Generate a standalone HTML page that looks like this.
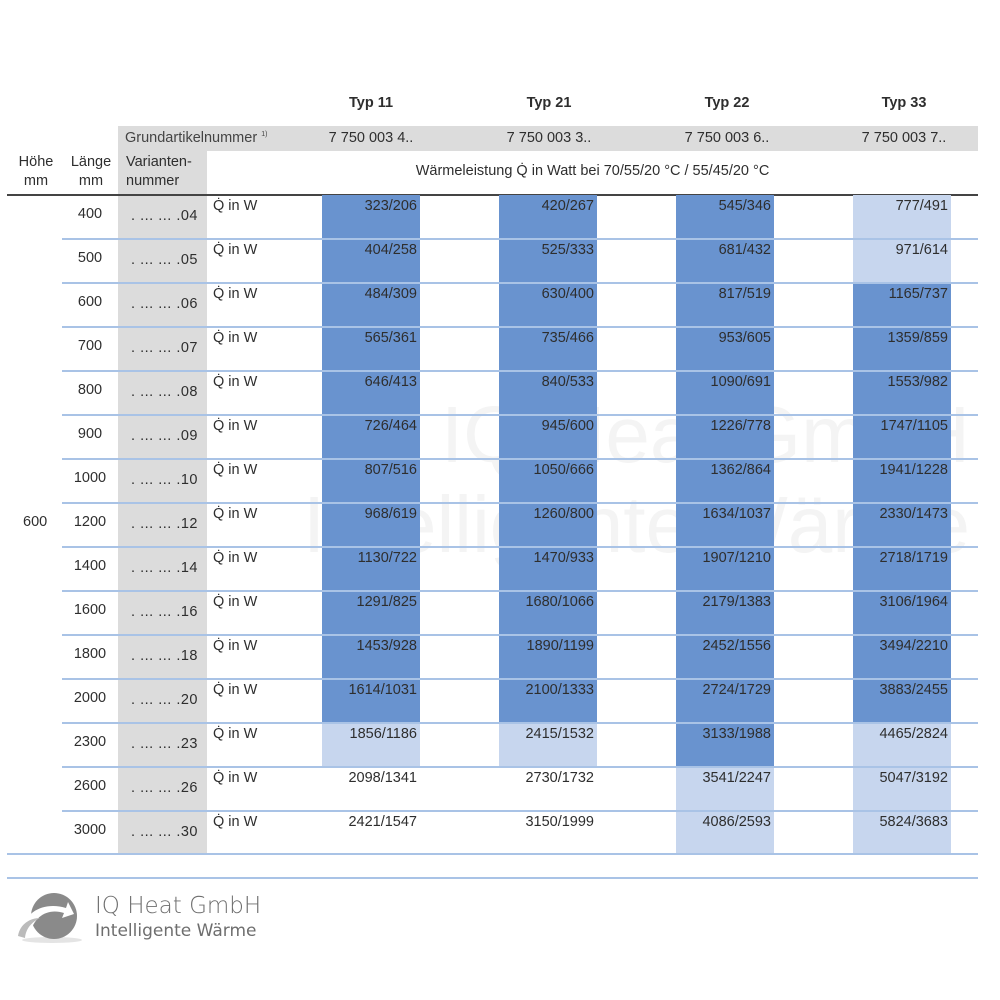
<!DOCTYPE html>
<html><head><meta charset="utf-8"><style>
body{margin:0;width:1000px;height:1000px;background:#fff;position:relative;overflow:hidden;font-family:"Liberation Sans",sans-serif;color:#2e2e2e;font-size:14.5px}
div{position:absolute}
.t{font-weight:bold;top:95px;width:120px;text-align:center}
.g{background:#dcdcdc}
.ln{left:62px;width:916px;height:2px;background:#a9c3e6}
.r{height:44px}
.r .l{left:62px;width:56px;text-align:center;top:11px}
.r .v{left:118px;width:80px;text-align:right;top:13px;letter-spacing:0.5px}
.r .q{left:213px;top:3px}
.c{width:98px;height:44px;text-align:right;box-sizing:border-box;padding:3px 3px 0 0}
.d{background:#6993cf}.p{background:#c7d6ee}
.c1{left:322px}.c2{left:499px}.c3{left:676px}.c4{left:853px}
</style></head><body>
<div style="top:390px;width:1000px;font-size:80px;color:#f4f4f4;text-align:right;right:30px;line-height:90px">IQ Heat GmbH<br>Intelligente Wärme</div>
<div class="t" style="left:311px">Typ 11</div>
<div class="t" style="left:489px">Typ 21</div>
<div class="t" style="left:667px">Typ 22</div>
<div class="t" style="left:844px">Typ 33</div>
<div class="g" style="left:118px;top:126px;width:860px;height:25px"></div>
<div style="left:125px;top:130px;color:#444">Grundartikelnummer <sup style="font-size:7px">1)</sup></div>
<div style="left:311px;top:130px;width:120px;text-align:center">7 750 003 4..</div>
<div style="left:489px;top:130px;width:120px;text-align:center">7 750 003 3..</div>
<div style="left:667px;top:130px;width:120px;text-align:center">7 750 003 6..</div>
<div style="left:844px;top:130px;width:120px;text-align:center">7 750 003 7..</div>
<div class="g" style="left:118px;top:151px;width:89px;height:703px"></div>
<div style="left:10px;top:153px;width:52px;text-align:center;line-height:19px">Höhe<br>mm</div>
<div style="left:64px;top:153px;width:54px;text-align:center;line-height:19px">Länge<br>mm</div>
<div style="left:126px;top:153px;line-height:19px">Varianten-<br>nummer</div>
<div style="left:207px;top:163px;width:771px;text-align:center">Wärmeleistung Q̇ in Watt bei 70/55/20 °C / 55/45/20 °C</div>
<div style="left:7px;top:194px;width:971px;height:2px;background:#444"></div>
<div style="left:23px;top:514px">600</div>

<div class="r" style="top:195px;left:0;width:1000px"><div class="l">400</div><div class="v">. ... ... .04</div><div class="q">Q̇ in W</div><div class="c c1 d">323/206</div><div class="c c2 d">420/267</div><div class="c c3 d">545/346</div><div class="c c4 p">777/491</div></div>
<div class="r" style="top:239px;left:0;width:1000px"><div class="l">500</div><div class="v">. ... ... .05</div><div class="q">Q̇ in W</div><div class="c c1 d">404/258</div><div class="c c2 d">525/333</div><div class="c c3 d">681/432</div><div class="c c4 p">971/614</div></div>
<div class="r" style="top:283px;left:0;width:1000px"><div class="l">600</div><div class="v">. ... ... .06</div><div class="q">Q̇ in W</div><div class="c c1 d">484/309</div><div class="c c2 d">630/400</div><div class="c c3 d">817/519</div><div class="c c4 d">1165/737</div></div>
<div class="r" style="top:327px;left:0;width:1000px"><div class="l">700</div><div class="v">. ... ... .07</div><div class="q">Q̇ in W</div><div class="c c1 d">565/361</div><div class="c c2 d">735/466</div><div class="c c3 d">953/605</div><div class="c c4 d">1359/859</div></div>
<div class="r" style="top:371px;left:0;width:1000px"><div class="l">800</div><div class="v">. ... ... .08</div><div class="q">Q̇ in W</div><div class="c c1 d">646/413</div><div class="c c2 d">840/533</div><div class="c c3 d">1090/691</div><div class="c c4 d">1553/982</div></div>
<div class="r" style="top:415px;left:0;width:1000px"><div class="l">900</div><div class="v">. ... ... .09</div><div class="q">Q̇ in W</div><div class="c c1 d">726/464</div><div class="c c2 d">945/600</div><div class="c c3 d">1226/778</div><div class="c c4 d">1747/1105</div></div>
<div class="r" style="top:459px;left:0;width:1000px"><div class="l">1000</div><div class="v">. ... ... .10</div><div class="q">Q̇ in W</div><div class="c c1 d">807/516</div><div class="c c2 d">1050/666</div><div class="c c3 d">1362/864</div><div class="c c4 d">1941/1228</div></div>
<div class="r" style="top:503px;left:0;width:1000px"><div class="l">1200</div><div class="v">. ... ... .12</div><div class="q">Q̇ in W</div><div class="c c1 d">968/619</div><div class="c c2 d">1260/800</div><div class="c c3 d">1634/1037</div><div class="c c4 d">2330/1473</div></div>
<div class="r" style="top:547px;left:0;width:1000px"><div class="l">1400</div><div class="v">. ... ... .14</div><div class="q">Q̇ in W</div><div class="c c1 d">1130/722</div><div class="c c2 d">1470/933</div><div class="c c3 d">1907/1210</div><div class="c c4 d">2718/1719</div></div>
<div class="r" style="top:591px;left:0;width:1000px"><div class="l">1600</div><div class="v">. ... ... .16</div><div class="q">Q̇ in W</div><div class="c c1 d">1291/825</div><div class="c c2 d">1680/1066</div><div class="c c3 d">2179/1383</div><div class="c c4 d">3106/1964</div></div>
<div class="r" style="top:635px;left:0;width:1000px"><div class="l">1800</div><div class="v">. ... ... .18</div><div class="q">Q̇ in W</div><div class="c c1 d">1453/928</div><div class="c c2 d">1890/1199</div><div class="c c3 d">2452/1556</div><div class="c c4 d">3494/2210</div></div>
<div class="r" style="top:679px;left:0;width:1000px"><div class="l">2000</div><div class="v">. ... ... .20</div><div class="q">Q̇ in W</div><div class="c c1 d">1614/1031</div><div class="c c2 d">2100/1333</div><div class="c c3 d">2724/1729</div><div class="c c4 d">3883/2455</div></div>
<div class="r" style="top:723px;left:0;width:1000px"><div class="l">2300</div><div class="v">. ... ... .23</div><div class="q">Q̇ in W</div><div class="c c1 p">1856/1186</div><div class="c c2 p">2415/1532</div><div class="c c3 d">3133/1988</div><div class="c c4 p">4465/2824</div></div>
<div class="r" style="top:767px;left:0;width:1000px"><div class="l">2600</div><div class="v">. ... ... .26</div><div class="q">Q̇ in W</div><div class="c c1">2098/1341</div><div class="c c2">2730/1732</div><div class="c c3 p">3541/2247</div><div class="c c4 p">5047/3192</div></div>
<div class="r" style="top:811px;left:0;width:1000px"><div class="l">3000</div><div class="v">. ... ... .30</div><div class="q">Q̇ in W</div><div class="c c1">2421/1547</div><div class="c c2">3150/1999</div><div class="c c3 p" style="height:43px">4086/2593</div><div class="c c4 p" style="height:43px">5824/3683</div></div>

<div class="ln" style="top:238px"></div><div class="ln" style="top:282px"></div><div class="ln" style="top:326px"></div><div class="ln" style="top:370px"></div><div class="ln" style="top:414px"></div><div class="ln" style="top:458px"></div><div class="ln" style="top:502px"></div><div class="ln" style="top:546px"></div><div class="ln" style="top:590px"></div><div class="ln" style="top:634px"></div><div class="ln" style="top:678px"></div><div class="ln" style="top:722px"></div><div class="ln" style="top:766px"></div><div class="ln" style="top:810px"></div>
<div class="ln" style="top:853px;left:7px;width:971px"></div>
<div class="ln" style="top:877px;left:7px;width:971px"></div>

<svg style="position:absolute;left:16px;top:890px" width="70" height="55" viewBox="0 0 70 55">
<ellipse cx="36" cy="50" rx="30" ry="3" fill="#e4e4e4"/>
<circle cx="38" cy="26" r="23" fill="#8a8a8a"/>
<path d="M6 40 C10 20 30 12 50 18 L52 12 L58 24 L46 28 L48 23 C32 18 18 26 14 44 Z" fill="#fff"/>
<path d="M2 46 C4 34 14 28 24 28 C16 32 10 38 9 48 Z" fill="#bbb"/>
</svg>
<div style="left:95px;top:893px;font-size:23px;color:#6e6e6e;font-family:'DejaVu Sans',sans-serif;font-weight:300">IQ Heat GmbH</div>
<div style="left:95px;top:921px;font-size:17px;color:#6e6e6e;font-family:'DejaVu Sans',sans-serif">Intelligente Wärme</div>
</body></html>
